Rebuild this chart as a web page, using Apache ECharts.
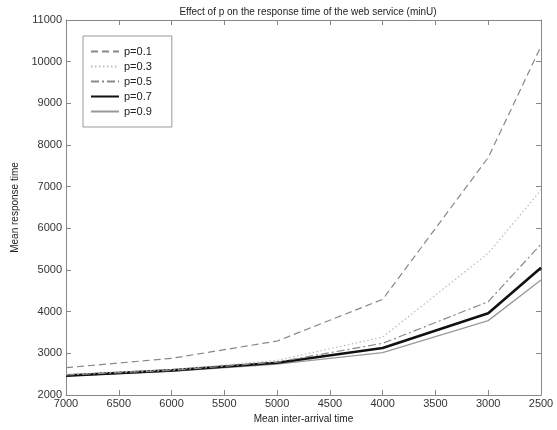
<!DOCTYPE html>
<html>
<head>
<meta charset="utf-8">
<script src="https://cdn.jsdelivr.net/npm/echarts@6/dist/echarts.min.js"></script>
<style>html,body{margin:0;padding:0;background:#fff;}#c{width:557px;height:430px;}</style>
</head>
<body>
<div id="c"></div>
<script>
var interArrival = [7000, 6000, 5000, 4000, 3000, 2500];
var p01 = [2655, 2880, 3295, 4295, 7700, 10370];
var p03 = [2500, 2610, 2830, 3390, 5400, 6920];
var p05 = [2480, 2590, 2790, 3240, 4240, 5620];
var p07 = [2465, 2590, 2775, 3130, 3960, 5055];
var p09 = [2460, 2570, 2740, 3015, 3785, 4760];
var seriesNames = ['p=0.1', 'p=0.3', 'p=0.5', 'p=0.7', 'p=0.9'];
var yTicks = [2000, 3000, 4000, 5000, 6000, 7000, 8000, 9000, 10000, 11000];
var xTicks = [7000, 6500, 6000, 5500, 5000, 4500, 4000, 3500, 3000, 2500];

function pairs(vals) { return interArrival.map(function (x, i) { return [x, vals[i]]; }); }

var font = 'Liberation Sans, Arial, sans-serif';
var axisColor = '#888';
var chart = echarts.init(document.getElementById('c'), null, {renderer: 'canvas'});
var styles = [
  {color: '#888', width: 1.2, type: [7, 4]},
  {color: '#bbb', width: 1.2, type: [1.5, 2.5]},
  {color: '#888', width: 1.2, type: [8, 3, 2, 3]},
  {color: '#111', width: 2.6, type: 'solid'},
  {color: '#999', width: 1.3, type: 'solid'}
];
var dataSets = [p01, p03, p05, p07, p09];
var series = dataSets.map(function (d, i) {
  return {
    name: seriesNames[i], type: 'line', data: pairs(d), showSymbol: false, symbol: 'none',
    lineStyle: styles[i], itemStyle: {color: styles[i].color}, z: 10 - i, animation: false
  };
});
var commonX = {
  type: 'value', min: 2500, max: 7000, interval: 500, inverse: true,
  axisLine: {lineStyle: {color: axisColor, width: 1}},
  axisTick: {inside: true, length: 5, lineStyle: {color: axisColor}},
  splitLine: {show: false}
};
var commonY = {
  type: 'value', min: 2000, max: 11000, interval: 1000,
  axisLine: {show: true, lineStyle: {color: axisColor, width: 1}},
  axisTick: {show: true, inside: true, length: 5, lineStyle: {color: axisColor}},
  splitLine: {show: false}
};
chart.setOption({
  animation: false,
  backgroundColor: '#fff',
  title: {
    text: 'Effect of p on the response time of the web service (minU)',
    left: 303, top: 2, textAlign: 'center',
    textStyle: {fontFamily: font, fontSize: 10, fontWeight: 'normal', color: '#222'}
  },
  legend: {
    orient: 'vertical', left: 83, top: 36,
    data: seriesNames,
    itemWidth: 28, itemHeight: 12, itemGap: 4,
    padding: [10, 20, 10, 7],
    borderColor: '#999', borderWidth: 1, backgroundColor: '#fff',
    itemStyle: {color: 'rgba(0,0,0,0)', borderWidth: 0, opacity: 0},
    textStyle: {fontFamily: font, fontSize: 11, color: '#222'}
  },
  grid: {left: 66, right: 16, top: 20, bottom: 35},
  xAxis: [
    Object.assign({}, commonX, {
      position: 'bottom',
      name: 'Mean inter-arrival time', nameLocation: 'middle', nameGap: 19,
      nameTextStyle: {fontFamily: font, fontSize: 10, color: '#222'},
      axisLabel: {fontFamily: font, fontSize: 11, color: '#333', margin: 3,
        formatter: function (v) { return xTicks.indexOf(v) >= 0 ? String(v) : ''; }}
    }),
    Object.assign({}, commonX, {position: 'top', axisLabel: {show: false}})
  ],
  yAxis: [
    Object.assign({}, commonY, {
      position: 'left',
      name: 'Mean response time', nameLocation: 'middle', nameGap: 33,
      nameTextStyle: {fontFamily: font, fontSize: 10, color: '#222'},
      axisLabel: {fontFamily: font, fontSize: 11, color: '#333', margin: 4,
        formatter: function (v) { return yTicks.indexOf(v) >= 0 ? String(v) : ''; }}
    }),
    Object.assign({}, commonY, {position: 'right', axisLabel: {show: false}})
  ],
  series: series
});
</script>
</body>
</html>
